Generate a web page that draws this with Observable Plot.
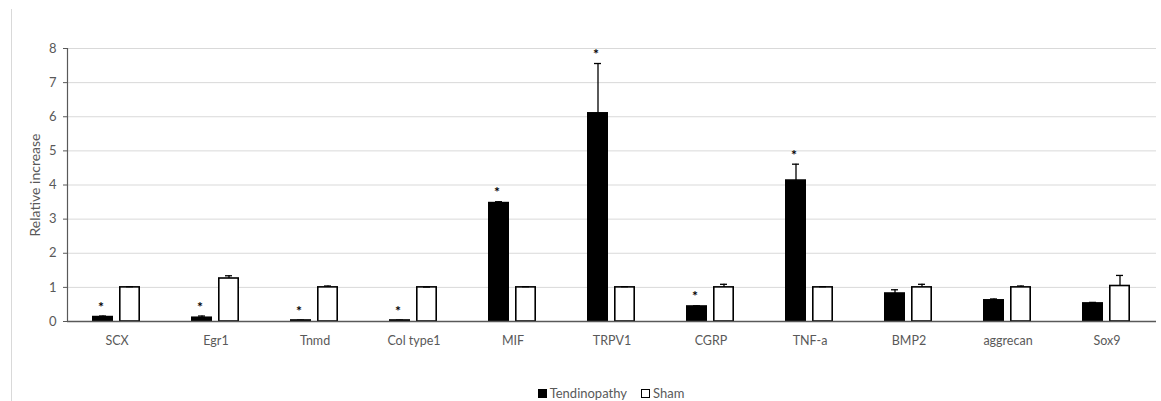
<!DOCTYPE html>
<html><head><meta charset="utf-8">
<script src="https://cdn.jsdelivr.net/npm/d3@7"></script>
<script src="https://cdn.jsdelivr.net/npm/@observablehq/plot@0.6"></script>
<style>
body{margin:0;background:#fff;font-family:Lato,"Open Sans",sans-serif;}
#wrap{position:relative;width:1161px;height:401px;overflow:hidden;}
#border{position:absolute;left:11px;top:9px;bottom:0;border-left:1px solid #d9d9d9;}
#chart{position:absolute;left:0;top:0;}
#legend{position:absolute;top:385px;left:63px;width:1096px;display:flex;justify-content:center;gap:14px;font-size:13px;color:#595959;line-height:16px;}
#legend span{display:inline-flex;align-items:center;}
.sw{display:inline-block;width:9px;height:9px;margin-right:3px;box-sizing:border-box;}
</style></head>
<body>
<div id="wrap"><div id="border"></div><div id="chart"></div><div id="legend"></div></div>
<script>
const categories = ["SCX","Egr1","Tnmd","Col type1","MIF","TRPV1","CGRP","TNF-a","BMP2","aggrecan","Sox9"];
const seriesNames = ["Tendinopathy","Sham"];
const seriesColors = ["#000000","#ffffff"];
const tendValues = [0.13,0.11,0.03,0.03,3.47,6.10,0.44,4.13,0.82,0.62,0.53];
const tendErrors = [0.03,0.05,0.01,0.01,0.04,1.46,0.02,0.48,0.11,0.04,0.03];
const shamValues = [1.00,1.26,1.00,1.00,1.00,1.00,1.00,1.00,1.00,1.00,1.04];
const shamErrors = [0.02,0.08,0.04,0.01,0.02,0.02,0.09,0.02,0.09,0.04,0.31];
const significant = [true,true,true,true,true,true,true,true,false,false,false];
const yTicks = [0,1,2,3,4,5,6,7,8];
const yLabel = "Relative increase";

const rows = categories.flatMap((c, i) => [
  {cat: c, series: seriesNames[0], value: tendValues[i], err: tendErrors[i], sig: significant[i]},
  {cat: c, series: seriesNames[1], value: shamValues[i], err: shamErrors[i], sig: false}
]);
const errTop = d => d.value + d.err;

const chart = Plot.plot({
  width: 1161, height: 380,
  marginLeft: 63, marginRight: 2, marginTop: 48, marginBottom: 59,
  style: {fontFamily: "Lato, 'Open Sans', sans-serif", fontSize: "12.5px", color: "#595959", background: "transparent"},
  fx: {domain: categories, padding: 0, label: null},
  x: {domain: seriesNames, paddingInner: 0.214, paddingOuter: 0.886, axis: null},
  y: {domain: [0, 8]},
  color: {domain: seriesNames, range: seriesColors},
  marks: [
    Plot.ruleY(yTicks, {stroke: "#d9d9d9", strokeWidth: 1}),
    Plot.barY(rows, {fx: "cat", x: "series", y: "value", fill: "series", stroke: "#000", strokeWidth: 1.6, insetLeft: 0.8, insetRight: 0.8}),
    Plot.ruleX(rows, {fx: "cat", x: "series", y1: "value", y2: errTop, stroke: "#000", strokeWidth: 1.3}),
    Plot.tickY(rows, {fx: "cat", x: "series", y: errTop, stroke: "#000", strokeWidth: 1.3, insetLeft: 7, insetRight: 7}),
    Plot.text(rows.filter(d => d.sig), {fx: "cat", x: "series", y: errTop, text: () => "*", fill: "#000", fontSize: 14, fontWeight: "bold", dx: -2, dy: -9}),
    Plot.ruleY([0], {stroke: "#595959", strokeWidth: 1.6}),
    Plot.frame({anchor: "left", facetAnchor: "left", stroke: "#595959", strokeWidth: 1.2}),
    Plot.axisY(yTicks, {anchor: "left", tickSize: 4, tickPadding: 7, stroke: "#595959", fontSize: 13, label: null}),
    Plot.text([yLabel], {frameAnchor: "left", facetAnchor: "left", rotate: -90, textAnchor: "middle", lineAnchor: "middle", dx: -32, fontSize: 14, fill: "#595959"}),
    Plot.axisFx({anchor: "bottom", tickSize: 0, tickPadding: 15, label: null})
  ]
});
document.getElementById("chart").appendChild(chart);

const legend = document.getElementById("legend");
seriesNames.forEach((name, i) => {
  const s = document.createElement("span");
  const sw = document.createElement("i");
  sw.className = "sw";
  sw.style.background = seriesColors[i];
  sw.style.border = "1.5px solid #000";
  s.appendChild(sw);
  s.appendChild(document.createTextNode(name));
  legend.appendChild(s);
});
</script>
</body></html>
